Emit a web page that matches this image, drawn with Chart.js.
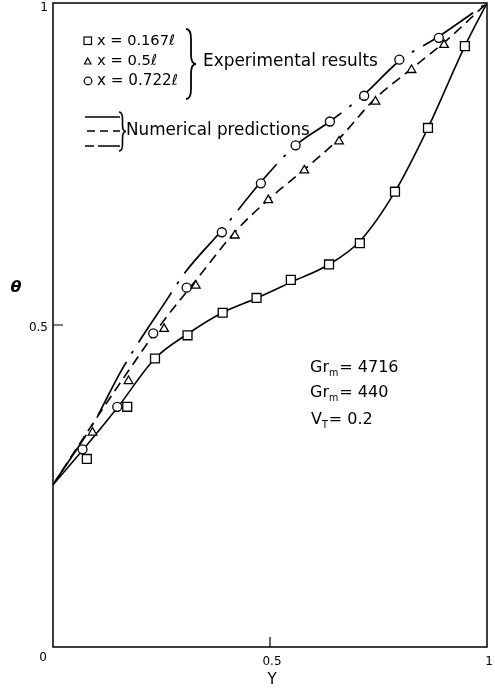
<!DOCTYPE html>
<html>
<head>
<meta charset="UTF-8">
<title>theta vs Y</title>
<script src="https://cdn.jsdelivr.net/npm/chart.js"></script>
<style>
  html, body { margin: 0; padding: 0; background: #fff; }
  #wrap { width: 495px; height: 692px; }
</style>
</head>
<body>
<div id="wrap"><canvas id="grafico"></canvas></div>
<script>
// experimental points (Y, theta)
const quadY = [0.078, 0.171, 0.235, 0.310, 0.391, 0.469, 0.548, 0.636, 0.707, 0.788, 0.864, 0.949];
const quadT = [0.292, 0.373, 0.448, 0.484, 0.519, 0.542, 0.570, 0.594, 0.627, 0.707, 0.806, 0.933];

const triY = [0.091, 0.174, 0.256, 0.329, 0.419, 0.496, 0.579, 0.659, 0.743, 0.826, 0.901];
const triT = [0.333, 0.413, 0.494, 0.561, 0.639, 0.694, 0.740, 0.785, 0.847, 0.896, 0.935];

const circY = [0.068, 0.148, 0.231, 0.308, 0.389, 0.479, 0.559, 0.638, 0.717, 0.798, 0.889];
const circT = [0.307, 0.373, 0.487, 0.558, 0.644, 0.720, 0.779, 0.816, 0.856, 0.912, 0.946];

// numerical predictions
const solidY = [0, 0.07, 0.15, 0.235, 0.31, 0.39, 0.47, 0.55, 0.636, 0.707, 0.788, 0.864, 0.949, 1];
const solidT = [0.252, 0.307, 0.373, 0.448, 0.486, 0.519, 0.542, 0.567, 0.594, 0.630, 0.707, 0.806, 0.933, 1];

const dashY = [0, 0.09, 0.17, 0.25, 0.33, 0.42, 0.5, 0.58, 0.66, 0.74, 0.83, 0.9, 1];
const dashT = [0.252, 0.345, 0.425, 0.502, 0.570, 0.645, 0.697, 0.742, 0.790, 0.850, 0.900, 0.938, 1];

const longY = [0, 0.097, 0.158, 0.262, 0.306, 0.39, 0.479, 0.559, 0.638, 0.717, 0.798, 0.889, 1];
const longT = [0.252, 0.352, 0.430, 0.539, 0.583, 0.648, 0.722, 0.779, 0.816, 0.858, 0.910, 0.948, 1];

const ticksX = [0.5, 1];
const ticksY = [0.5, 1];
const rotX = ['0.5', '1'];
const rotY = ['0.5', '1'];

const fonte = '"DejaVu Sans", sans-serif';

function pares(xs, ys) {
  return xs.map((v, i) => ({ x: v, y: ys[i] }));
}

function linha(xs, ys, dash, w) {
  return {
    data: pares(xs, ys),
    showLine: true,
    borderColor: '#000',
    borderWidth: w,
    borderDash: dash,
    pointRadius: 0,
    cubicInterpolationMode: 'monotone',
    order: 2
  };
}

function pontos(xs, ys, estilo, r) {
  return {
    data: pares(xs, ys),
    showLine: false,
    pointStyle: estilo,
    pointRadius: r,
    pointBackgroundColor: '#fff',
    pointBorderColor: '#000',
    pointBorderWidth: 1.3,
    order: 1
  };
}

// brace pointing right
function chave(ctx, x, y0, y1, w) {
  const m = (y0 + y1) / 2;
  const h = w / 2;
  ctx.beginPath();
  ctx.moveTo(x, y0);
  ctx.quadraticCurveTo(x + h, y0, x + h, y0 + h * 2);
  ctx.lineTo(x + h, m - h * 2);
  ctx.quadraticCurveTo(x + h, m, x + w, m);
  ctx.quadraticCurveTo(x + h, m, x + h, m + h * 2);
  ctx.lineTo(x + h, y1 - h * 2);
  ctx.quadraticCurveTo(x + h, y1, x, y1);
  ctx.stroke();
}

function textoLargura(ctx, txt, x, y, largura, peso) {
  ctx.font = (peso || '') + ' 20px ' + fonte;
  const w = ctx.measureText(txt).width;
  const size = 20 * largura / w;
  ctx.font = (peso || '') + ' ' + size.toFixed(2) + 'px ' + fonte;
  ctx.fillText(txt, x, y);
}

function textoSub(ctx, base, sub, resto, x, y, size) {
  ctx.font = size + 'px ' + fonte;
  ctx.fillText(base, x, y);
  let px = x + ctx.measureText(base).width;
  ctx.font = (size * 0.6) + 'px ' + fonte;
  ctx.fillText(sub, px, y + size * 0.35);
  px += ctx.measureText(sub).width + 1;
  ctx.font = size + 'px ' + fonte;
  ctx.fillText(resto, px, y);
}

const extras = {
  id: 'extras',
  afterDraw(chart) {
    const ctx = chart.ctx;
    const a = chart.chartArea;
    const sx = chart.scales.x, sy = chart.scales.y;
    ctx.save();
    ctx.strokeStyle = '#000';
    ctx.fillStyle = '#000';

    // frame
    ctx.lineWidth = 1.5;
    ctx.strokeRect(a.left, a.top, a.right - a.left, a.bottom - a.top);

    // inward ticks at 0.5
    ctx.lineWidth = 1.2;
    ctx.beginPath();
    ctx.moveTo(a.left, sy.getPixelForValue(0.5));
    ctx.lineTo(a.left + 10, sy.getPixelForValue(0.5));
    ctx.moveTo(sx.getPixelForValue(0.5), a.bottom);
    ctx.lineTo(sx.getPixelForValue(0.5), a.bottom - 10);
    ctx.stroke();

    // tick labels
    ctx.font = '12px ' + fonte;
    ctx.textBaseline = 'middle';
    ctx.textAlign = 'center';
    ticksX.forEach((v, i) => ctx.fillText(rotX[i], sx.getPixelForValue(v) + 2, a.bottom + 15));
    ctx.textAlign = 'right';
    ticksY.forEach((v, i) => ctx.fillText(rotY[i], a.left - 5, Math.max(sy.getPixelForValue(v) + 3, 8)));
    ctx.textAlign = 'center';
    ctx.fillText('0', 43, 658);

    // axis titles
    ctx.font = '15px ' + fonte;
    ctx.fillText('Y', 272, 680);
    ctx.font = 'italic bold 16px ' + fonte;
    ctx.fillText('θ', 16, 288);

    // legend: experimental
    ctx.textAlign = 'left';
    ctx.lineWidth = 1.2;
    ctx.strokeRect(84, 37, 7.5, 7.5);
    ctx.beginPath();
    ctx.moveTo(84.5, 64); ctx.lineTo(91, 64); ctx.lineTo(87.7, 58); ctx.closePath();
    ctx.stroke();
    ctx.beginPath();
    ctx.arc(88, 81, 3.8, 0, Math.PI * 2);
    ctx.stroke();
    textoLargura(ctx, 'x = 0.167ℓ', 97, 41, 78);
    textoLargura(ctx, 'x = 0.5ℓ', 97, 61, 60);
    textoLargura(ctx, 'x = 0.722ℓ', 97, 81, 81);
    ctx.lineWidth = 1.8;
    chave(ctx, 186, 29, 99, 10);
    textoLargura(ctx, 'Experimental results', 203, 62, 175);

    // legend: numerical
    ctx.lineWidth = 1.6;
    ctx.beginPath(); ctx.moveTo(85, 117); ctx.lineTo(120, 117); ctx.stroke();
    ctx.setLineDash([8, 5]);
    ctx.beginPath(); ctx.moveTo(87, 131); ctx.lineTo(120, 131); ctx.stroke();
    ctx.setLineDash([9, 4, 23, 4]);
    ctx.beginPath(); ctx.moveTo(85, 146); ctx.lineTo(120, 146); ctx.stroke();
    ctx.setLineDash([]);
    ctx.lineWidth = 1.6;
    chave(ctx, 119, 112, 151, 7);
    textoLargura(ctx, 'Numerical predictions', 126, 131, 184);

    // parameters
    textoSub(ctx, 'Gr', 'm', '= 4716', 310, 368, 16);
    textoSub(ctx, 'Gr', 'm', '= 440', 310, 393, 16);
    textoSub(ctx, 'V', 'T', '= 0.2', 311, 420, 16);
    ctx.restore();
  }
};

new Chart(document.getElementById('grafico'), {
  type: 'scatter',
  data: {
    datasets: [
      linha(solidY, solidT, [], 1.6),
      linha(dashY, dashT, [10, 6], 1.6),
      linha(longY, longT, [60, 10, 3, 10], 1.7),
      pontos(quadY, quadT, 'rect', 6.3),
      pontos(triY, triT, 'triangle', 5),
      pontos(circY, circT, 'circle', 4.5)
    ]
  },
  options: {
    responsive: true,
    maintainAspectRatio: false,
    animation: false,
    layout: { autoPadding: false, padding: { top: 3, right: 8, left: 0, bottom: 0 } },
    plugins: { legend: { display: false }, tooltip: { enabled: false } },
    scales: {
      x: {
        type: 'linear', min: 0, max: 1,
        afterFit: s => { s.height = 45; },
        grid: { display: false, drawTicks: false },
        border: { display: false },
        ticks: { display: false }
      },
      y: {
        type: 'linear', min: 0, max: 1,
        afterFit: s => { s.width = 53; },
        grid: { display: false, drawTicks: false },
        border: { display: false },
        ticks: { display: false }
      }
    }
  },
  plugins: [extras]
});
</script>
</body>
</html>
